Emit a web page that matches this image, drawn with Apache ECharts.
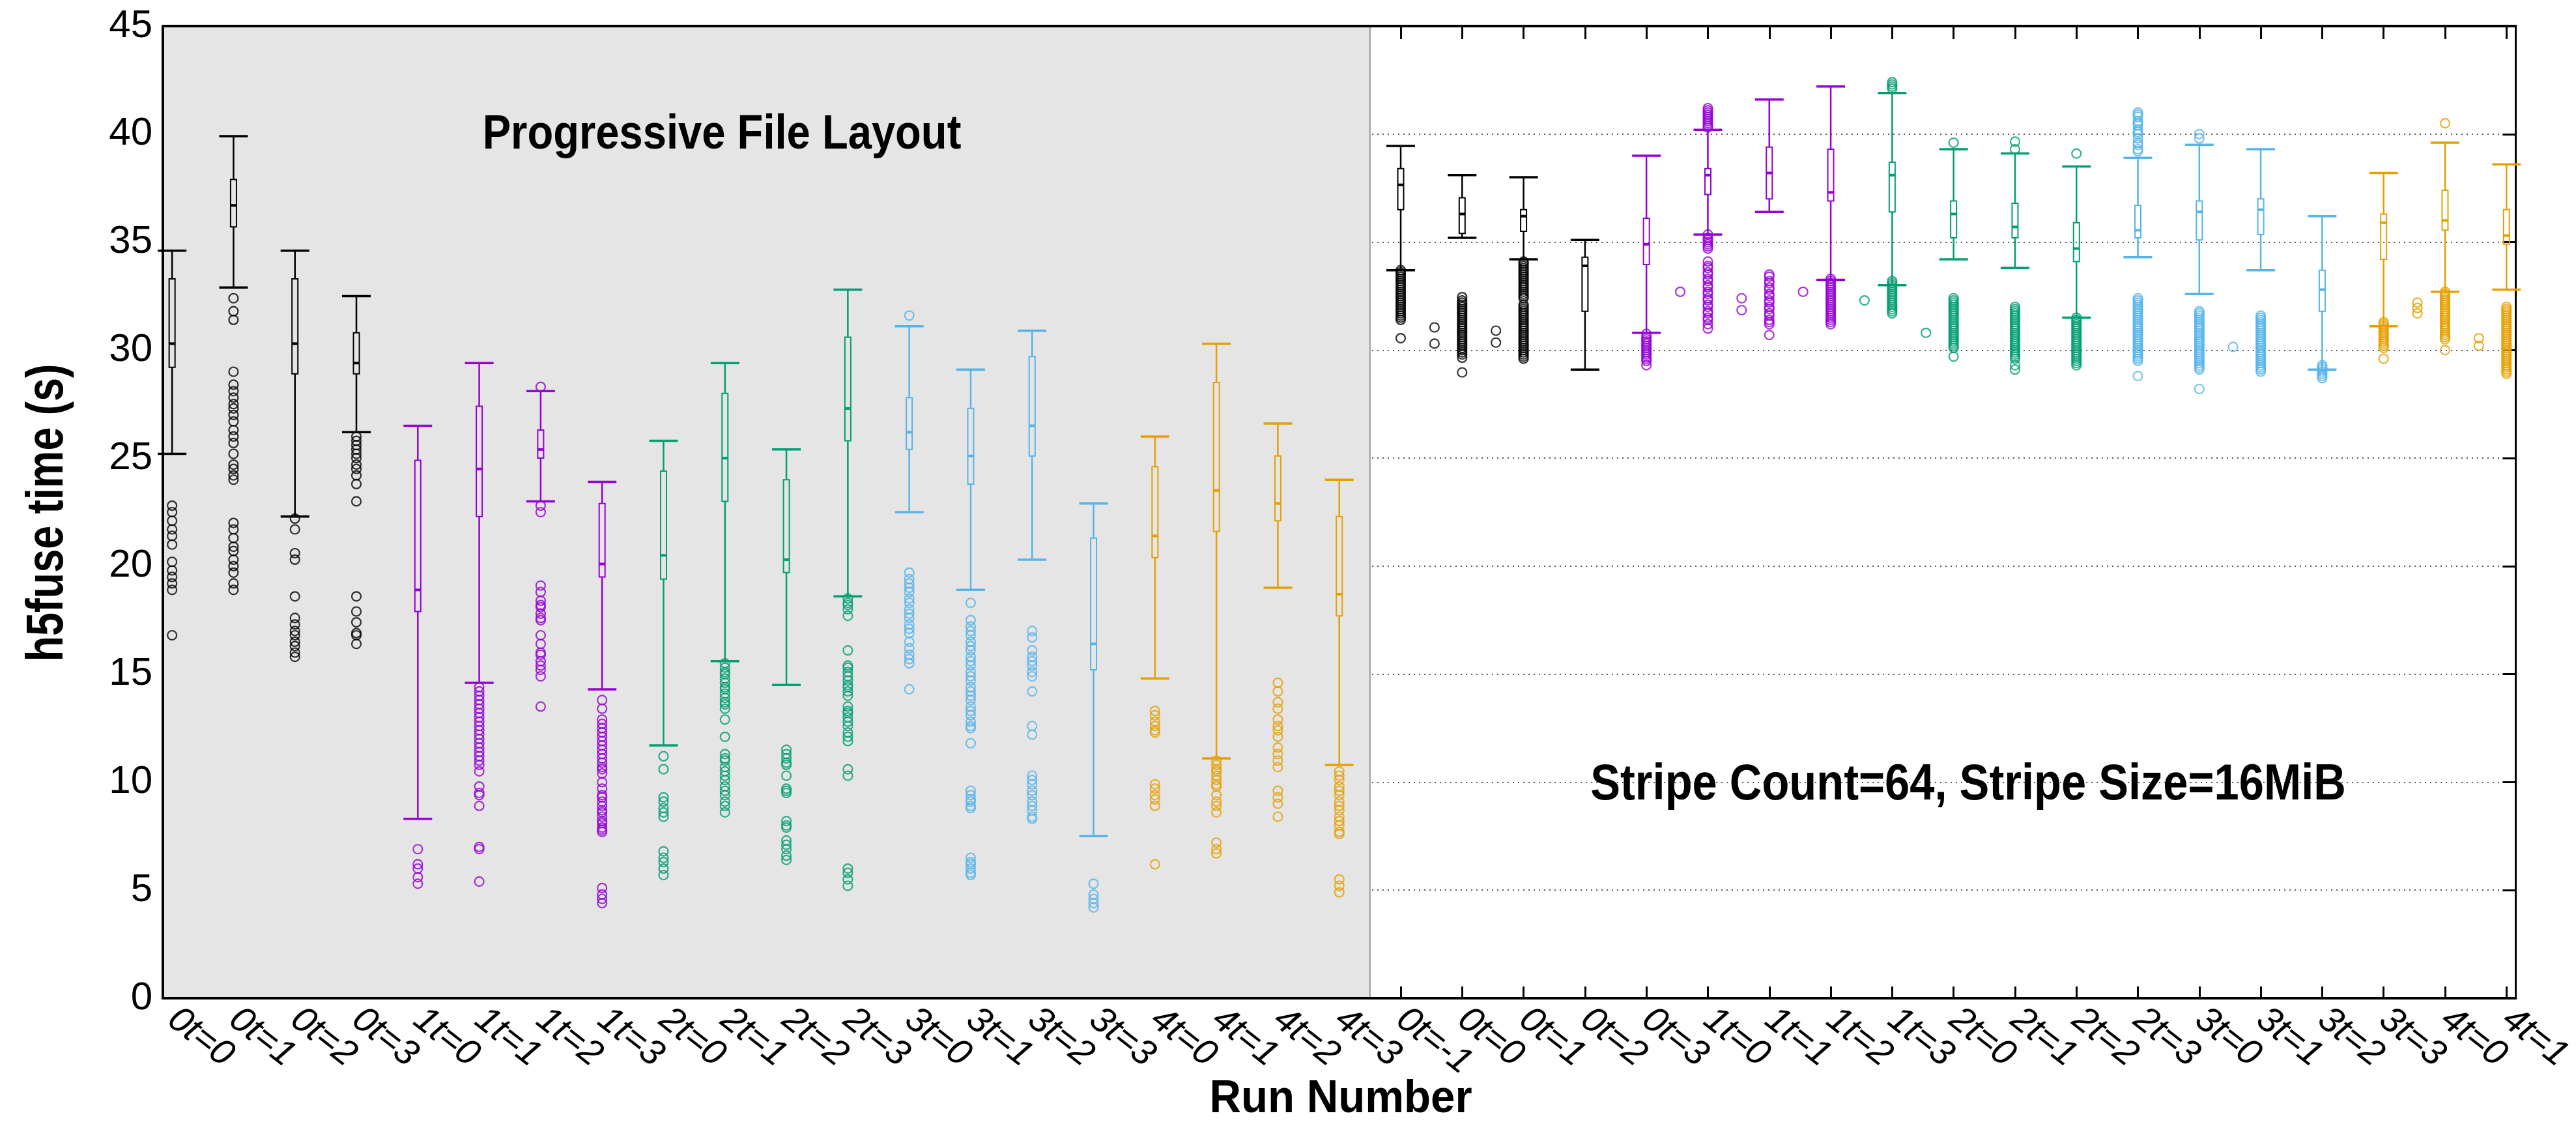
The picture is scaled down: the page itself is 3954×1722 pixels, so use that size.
<!DOCTYPE html>
<html>
<head>
<meta charset="utf-8">
<script src="https://cdn.jsdelivr.net/npm/echarts@6/dist/echarts.min.js"></script>
<style>html,body{margin:0;padding:0;background:#fff}#c{width:3954px;height:1722px}</style>
</head>
<body>
<div id="c"></div>
<script>
// ---------------- data ----------------
const categories = [
  '0t=0','0t=1','0t=2','0t=3','1t=0','1t=1','1t=2','1t=3','2t=0','2t=1','2t=2','2t=3',
  '3t=0','3t=1','3t=2','3t=3','4t=0','4t=1','4t=2','4t=3',
  '0t=-1','0t=0','0t=1','0t=2','0t=3','1t=0','1t=1','1t=2','1t=3','2t=0','2t=1','2t=2','2t=3',
  '3t=0','3t=1','3t=2','3t=3','4t=0','4t=1'
];
const boxGroup = [0,0,0,0,1,1,1,1,2,2,2,2,3,3,3,3,4,4,4,4, 0,0,0,0,1,1,1,1,2,2,2,2,3,3,3,3,4,4,4];
const whiskerLow  = [25.2,32.9,22.3,26.2,8.3,14.6,23.0,14.3,11.7,15.6,14.5,18.6,22.5,18.9,20.3,7.5,14.8,11.1,19.0,10.8,
                     33.7,35.2,34.2,29.1,30.8,35.35,36.4,33.25,33.0,34.2,33.8,31.5,34.3,32.6,33.7,29.1,31.1,32.7,32.8];
const q1          = [29.2,35.7,28.9,28.9,17.9,22.3,25.0,19.5,19.4,23.0,19.7,25.8,25.4,23.8,25.1,15.2,20.4,21.6,22.1,17.7,
                     36.5,35.4,35.5,31.8,33.96,37.2,37.0,36.9,36.4,35.2,35.2,34.1,35.2,35.1,35.35,31.8,34.2,35.55,34.9];
const median      = [30.3,36.7,30.3,29.4,18.9,24.5,25.4,20.1,20.5,25.0,20.3,27.3,26.2,25.1,26.5,16.4,21.4,23.5,22.9,18.7,
                     37.65,36.3,36.2,33.9,34.9,38.1,38.2,37.3,38.1,36.3,35.7,34.7,35.55,36.4,36.5,32.8,35.9,36.0,35.3];
const q3          = [33.3,37.9,33.3,30.8,24.9,27.4,26.3,22.9,24.4,28.0,24.0,30.6,27.8,27.3,29.7,21.3,24.6,28.5,25.1,22.3,
                     38.4,37.05,36.5,34.3,36.1,38.4,39.4,39.3,38.7,36.9,36.8,35.9,36.7,36.9,37.0,33.7,36.3,37.4,36.5];
const whiskerHigh = [34.6,39.9,34.6,32.5,26.5,29.4,28.1,23.9,25.8,29.4,25.4,32.8,31.1,29.1,30.9,22.9,26.0,30.3,26.6,24.0,
                     39.45,38.1,38.0,35.1,39.0,40.2,41.6,42.2,41.9,39.3,39.1,38.5,38.9,39.5,39.3,36.2,38.2,39.6,38.6];
const outliers = [
  [22.8,22.5,22.1,21.7,21.4,21.0,20.2,19.8,19.5,19.2,18.9,16.8],
  [32.4,31.8,31.4,29.0,28.4,28.1,27.8,27.5,27.3,27.0,26.7,26.3,26.0,25.7,25.2,24.7,24.5,24.2,24.0,22.0,21.7,21.3,20.9,20.7,20.3,20.0,19.7,19.2,18.9],
  [22.2,21.7,20.6,20.3,18.6,17.6,17.3,17.0,16.8,16.5,16.3,16.0,15.8],
  [26.0,25.8,25.6,25.4,25.2,25.0,24.7,24.5,24.2,23.8,23.0,18.6,17.9,17.4,16.9,16.8,16.4],
  [6.9,6.2,6.0,5.6,5.3],
  [14.4,14.2,14.0,13.8,13.6,13.4,13.2,13.0,12.8,12.6,12.4,12.2,12.0,11.8,11.6,11.4,11.2,11.0,10.8,10.5,9.8,9.5,9.4,8.9,7.0,6.9,5.4],
  [28.3,22.8,22.5,19.1,18.8,18.4,18.2,18.1,17.8,17.6,17.5,16.8,16.4,16.0,15.9,15.6,15.4,15.2,14.9,13.5],
  [13.8,13.4,12.9,12.7,12.5,12.3,12.1,11.9,11.7,11.5,11.3,11.1,10.9,10.7,10.6,10.4,10.0,9.7,9.4,9.3,9.1,8.9,8.7,8.6,8.4,8.2,8.1,7.9,7.8,7.7,5.1,4.8,4.6,4.4],
  [11.2,10.6,9.3,9.1,8.8,8.6,8.4,6.8,6.5,6.3,6.0,5.7],
  [15.5,15.3,15.1,15.0,14.8,14.6,14.4,14.3,14.1,13.9,13.7,13.6,13.4,12.9,12.1,11.3,11.1,11.0,10.7,10.5,10.3,10.1,9.8,9.6,9.4,9.1,8.9,8.6],
  [11.5,11.3,11.1,10.9,10.8,10.3,9.7,9.6,9.5,8.2,8.0,7.9,7.3,7.1,6.9,6.6,6.4],
  [18.5,18.3,18.2,18.0,17.7,16.1,15.4,15.3,15.1,14.9,14.7,14.5,14.4,14.2,14.0,13.5,13.3,13.2,13.0,12.8,12.6,12.3,12.1,11.9,10.6,10.3,6.0,5.8,5.5,5.2],
  [31.6,19.7,19.4,19.2,19.0,18.8,18.5,18.3,18.0,17.8,17.6,17.3,17.1,16.9,16.5,16.2,15.9,15.7,15.5,14.3],
  [18.3,17.5,17.2,17.0,16.8,16.5,16.3,16.1,15.8,15.6,15.4,15.1,14.9,14.7,14.4,14.2,14.0,13.8,13.5,13.3,13.1,12.8,12.6,12.5,11.8,9.6,9.4,9.2,9.1,8.9,8.8,6.5,6.3,6.2,6.0,5.8,5.7],
  [17.0,16.7,16.1,15.8,15.6,15.4,15.1,14.9,14.2,12.6,12.2,10.3,10.1,9.9,9.6,9.4,9.1,8.9,8.7,8.4,8.3],
  [5.3,4.8,4.6,4.4,4.2],
  [13.3,13.1,12.8,12.6,12.4,12.3,9.9,9.7,9.4,9.2,8.9,6.2],
  [11.0,10.8,10.6,10.5,10.3,10.1,9.9,9.8,9.4,9.1,8.9,8.6,7.2,6.9,6.7],
  [14.6,14.2,13.7,13.4,12.9,12.6,12.4,12.1,11.6,11.3,11.0,10.7,9.6,9.3,9.0,8.4],
  [10.5,10.3,10.1,9.8,9.6,9.4,9.1,8.9,8.7,8.4,8.2,8.0,7.7,7.6,5.5,5.2,4.9],
  [33.7,33.6,33.5,33.4,33.3,33.2,33.1,33.0,32.9,32.8,32.7,32.6,32.5,32.4,32.3,32.2,32.1,32.0,31.9,31.8,31.7,31.6,31.5,31.4,30.55],
  [32.45,32.3,32.2,32.1,32.0,31.9,31.8,31.7,31.6,31.5,31.4,31.3,31.2,31.1,31.0,30.9,30.8,30.7,30.6,30.5,30.4,30.3,30.2,30.1,30.0,29.9,29.8,29.65,28.97],
  [34.1,34.0,33.9,33.8,33.7,33.6,33.5,33.4,33.3,33.2,33.1,33.0,32.9,32.8,32.7,32.6,32.5,32.4,32.1,32.0,31.9,31.8,31.7,31.6,31.5,31.4,31.3,31.2,31.1,31.0,30.9,30.8,30.7,30.6,30.5,30.4,30.3,30.2,30.1,30.0,29.9,29.8,29.7,29.6],
  [],
  [30.75,30.6,30.5,30.4,30.3,30.2,30.1,30.0,29.9,29.8,29.7,29.6,29.5,29.3],
  [41.2,41.1,41.0,40.9,40.8,40.7,40.6,40.5,40.4,40.3,35.35,35.2,35.1,35.0,34.9,34.8,34.7,34.1,33.9,33.8,33.6,33.5,33.3,33.2,33.0,32.9,32.7,32.6,32.4,32.3,32.1,32.0,31.8,31.7,31.5,31.4,31.2,31.0],
  [33.5,33.4,33.2,33.1,32.9,32.8,32.6,32.5,32.3,32.2,32.0,31.9,31.7,31.6,31.4,31.3,31.2,30.7],
  [33.3,33.2,33.1,33.0,32.9,32.8,32.7,32.6,32.5,32.4,32.3,32.2,32.1,32.0,31.9,31.8,31.7,31.6,31.5,31.4,31.3,31.2],
  [42.4,42.3,42.2,42.1,33.2,33.1,33.0,32.9,32.8,32.7,32.6,32.5,32.4,32.3,32.2,32.1,32.0,31.9,31.8,31.7],
  [39.6,32.4,32.3,32.2,32.1,32.0,31.9,31.8,31.7,31.6,31.5,31.4,31.3,31.2,31.1,31.0,30.9,30.8,30.7,30.6,30.5,30.4,30.3,30.2,30.1,29.7],
  [39.65,39.3,32.0,31.9,31.8,31.7,31.6,31.5,31.4,31.3,31.2,31.1,31.0,30.9,30.8,30.7,30.6,30.5,30.4,30.3,30.2,30.1,30.0,29.9,29.8,29.7,29.6,29.3,29.1],
  [39.1,31.5,31.4,31.3,31.2,31.1,31.0,30.9,30.8,30.7,30.6,30.5,30.4,30.3,30.2,30.1,30.0,29.9,29.8,29.7,29.6,29.5,29.4,29.3],
  [41.0,40.9,40.8,40.6,40.5,40.4,40.2,40.1,40.0,39.8,39.6,39.5,39.3,39.2,32.4,32.3,32.2,32.1,32.0,31.9,31.8,31.7,31.6,31.5,31.4,31.3,31.2,31.1,31.0,30.9,30.8,30.7,30.6,30.5,30.4,30.3,30.2,30.1,30.0,29.9,29.8,29.7,29.6,29.5,28.8],
  [40.0,39.8,31.8,31.7,31.6,31.5,31.4,31.3,31.2,31.1,31.0,30.9,30.8,30.7,30.6,30.5,30.4,30.3,30.2,30.1,30.0,29.9,29.8,29.7,29.6,29.5,29.4,29.3,29.2,29.1,28.2],
  [31.6,31.5,31.4,31.3,31.2,31.1,31.0,30.9,30.8,30.7,30.6,30.5,30.4,30.3,30.2,30.1,30.0,29.9,29.8,29.7,29.6,29.5,29.4,29.3,29.2,29.1,29.0],
  [29.3,29.2,29.1,29.0,28.9,28.8,28.7],
  [31.3,31.2,31.1,31.0,30.9,30.8,30.7,30.6,30.5,30.4,30.3,30.2,30.1,29.6],
  [40.5,32.7,32.6,32.5,32.4,32.3,32.2,32.1,32.0,31.9,31.8,31.7,31.6,31.5,31.4,31.3,31.2,31.1,31.0,30.9,30.8,30.7,30.6,30.5,30.0],
  [32.0,31.9,31.8,31.7,31.6,31.5,31.4,31.3,31.2,31.1,31.0,30.9,30.8,30.7,30.6,30.5,30.4,30.3,30.2,30.1,30.0,29.9,29.8,29.7,29.6,29.5,29.4,29.3,29.2,29.1,29.0,28.9]
];
// outliers drawn just left of their box (box index, value)
const shiftedOutliers = [
  [21,31.05],[21,30.3],[22,30.9],[22,30.35],[25,32.7],[26,32.4],[26,31.85],[27,32.7],
  [28,32.3],[29,30.8],[34,30.15],[37,32.2],[37,31.95],[37,31.7],[38,30.55],[38,30.2]
];
const yTicks = [0,5,10,15,20,25,30,35,40,45];
const firstStripeBox = 20;
const title1 = 'Progressive File Layout';
const title2 = 'Stripe Count=64, Stripe Size=16MiB';
const xName = 'Run Number';
const yName = 'h5fuse time (s)';

// ---------------- style ----------------
const palette = ['#000000','#9400d3','#009e73','#56b4e9','#e69f00'];
const X_MIN = -0.15, X_MAX = 38.15, SHIFT = -0.45;
const FONT = '"Liberation Sans",Arial,Helvetica,sans-serif';

const chart = echarts.init(document.getElementById('c'), null, {renderer:'canvas', width:3954, height:1722});

const allIdx = categories.map((_, i) => i);
const stripeIdx = allIdx.filter(i => i >= firstStripeBox);

const boxData = categories.map((c, i) => ({
  value: [i, whiskerLow[i], q1[i], median[i], q3[i], whiskerHigh[i]],
  itemStyle: {color: palette[boxGroup[i]]}
}));
const outData = [];
outliers.forEach((arr, i) => arr.forEach(v => outData.push({value:[i, v], itemStyle:{borderColor: palette[boxGroup[i]]}})));
shiftedOutliers.forEach(([i, v]) => outData.push({value:[i + SHIFT, v], itemStyle:{borderColor: palette[boxGroup[i]]}}));

function renderBox(params, api) {
  const x = api.value(0);
  const pLow = api.coord([x, api.value(1)]);
  const pQ1 = api.coord([x, api.value(2)]);
  const pMed = api.coord([x, api.value(3)]);
  const pQ3 = api.coord([x, api.value(4)]);
  const pHigh = api.coord([x, api.value(5)]);
  const color = api.visual('color');
  const cx = pMed[0];
  const bw = 9, cw = 44;
  return {type:'group', children:[
    {type:'line', shape:{x1:cx, y1:pHigh[1], x2:cx, y2:pQ3[1]}, style:{stroke:color, lineWidth:2.5}},
    {type:'line', shape:{x1:cx, y1:pQ1[1], x2:cx, y2:pLow[1]}, style:{stroke:color, lineWidth:2.5}},
    {type:'line', shape:{x1:cx-cw/2, y1:pHigh[1], x2:cx+cw/2, y2:pHigh[1]}, style:{stroke:color, lineWidth:3.5}},
    {type:'line', shape:{x1:cx-cw/2, y1:pLow[1], x2:cx+cw/2, y2:pLow[1]}, style:{stroke:color, lineWidth:3.5}},
    {type:'rect', shape:{x:cx-bw/2, y:pQ3[1], width:bw, height:pQ1[1]-pQ3[1]}, style:{stroke:color, fill:'none', lineWidth:2}},
    {type:'line', shape:{x1:cx-bw/2, y1:pMed[1], x2:cx+bw/2, y2:pMed[1]}, style:{stroke:color, lineWidth:4}}
  ]};
}

function renderRegion(params, api) {
  const a = api.coord([api.value(0), yTicks[yTicks.length-1]]);
  const b = api.coord([api.value(1), yTicks[0]]);
  return {type:'rect', shape:{x:a[0], y:a[1], width:b[0]-a[0], height:b[1]-a[1]},
          style:{fill:'#e5e5e5', stroke:'#9a9a9a', lineWidth:2}};
}

function txt(text, x, y, size, sx, rot) {
  return {type:'text', x:x, y:y, rotation:rot || 0, scaleX:sx, z:10,
    style:{text:text, font:'bold ' + size + 'px ' + FONT, fill:'#000',
      textAlign:'center', align:'center', textVerticalAlign:'middle', verticalAlign:'middle'}};
}

const option = {
  backgroundColor: '#ffffff',
  animation: false,
  grid: {left:250, right:80, top:40, bottom:190, containLabel:false},
  xAxis: [
    {type:'value', position:'bottom', min:X_MIN, max:X_MAX, z:5,
     axisLine:{show:true, onZero:false, lineStyle:{color:'#000', width:4}},
     axisTick:{show:true, inside:true, length:18, customValues:stripeIdx, lineStyle:{color:'#000', width:3}},
     axisLabel:{show:true, customValues:allIdx, rotate:-38, margin:26, fontSize:56, fontStyle:'italic',
                fontFamily:FONT, color:'#000', formatter: v => categories[Math.round(v)]},
     splitLine:{show:false}},
    {type:'value', position:'top', min:X_MIN, max:X_MAX, z:5,
     axisLine:{show:true, onZero:false, lineStyle:{color:'#000', width:4}},
     axisTick:{show:true, inside:true, length:20, customValues:stripeIdx, lineStyle:{color:'#000', width:3}},
     axisLabel:{show:false}, splitLine:{show:false}}
  ],
  yAxis: [
    {type:'value', position:'left', min:0, max:45, interval:5, z:5,
     axisLine:{show:true, onZero:false, lineStyle:{color:'#000', width:4}},
     axisTick:{show:false},
     axisLabel:{show:true, fontSize:60, fontFamily:FONT, color:'#000', margin:16},
     splitLine:{show:false}},
    {type:'value', position:'right', min:0, max:45, interval:5, z:0,
     axisLine:{show:true, onZero:false, lineStyle:{color:'#000', width:3}},
     axisTick:{show:true, inside:true, length:20, lineStyle:{color:'#000', width:3}},
     axisLabel:{show:false},
     splitLine:{show:true, lineStyle:{color:'#555', width:2, type:[2,6]}}}
  ],
  series: [
    {type:'custom', z:1, silent:true, xAxisIndex:0, yAxisIndex:0, renderItem:renderRegion,
     data:[[X_MIN, firstStripeBox - 0.5]], encode:{x:[0,1]}},
    {type:'custom', z:3, silent:true, xAxisIndex:0, yAxisIndex:0, renderItem:renderBox,
     data:boxData, encode:{x:0, y:[1,2,3,4,5]}},
    {type:'scatter', z:4, silent:true, xAxisIndex:0, yAxisIndex:0, symbol:'circle', symbolSize:14,
     itemStyle:{color:'rgba(0,0,0,0)', borderWidth:2.2}, data:outData}
  ],
  graphic: [
    txt(title1, 1108, 208, 74, 0.88),
    txt(title2, 3021, 1205, 78, 0.88),
    txt(xName, 2058, 1688, 70, 0.96),
    txt(yName, 74, 787, 79, 0.82, Math.PI/2)
  ]
};
chart.setOption(option);
</script>
</body>
</html>
